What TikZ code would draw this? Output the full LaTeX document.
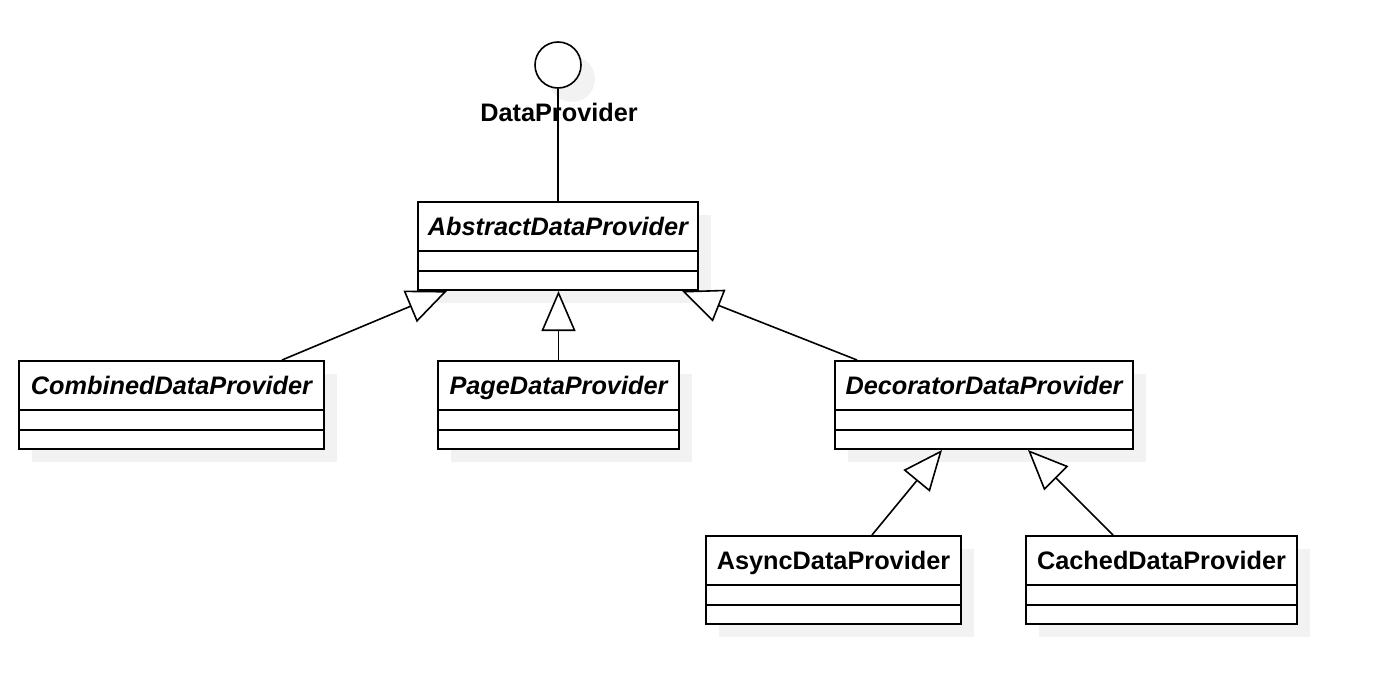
\documentclass[tikz,border=0pt]{standalone}
\usepackage{fontspec}
\setmainfont{Liberation Sans}
\usetikzlibrary{arrows.meta,calc}
\definecolor{shadowgray}{RGB}{242,242,242}
\tikzset{
  classbox/.style={draw=black, line width=2pt, fill=white, rectangle, inner sep=0pt, anchor=north west},
  sep/.style={line width=2pt},
  absname/.style={font=\fontsize{25.3}{30}\selectfont\bfseries\itshape, anchor=base, inner sep=0pt},
  concname/.style={font=\fontsize{25.3}{30}\selectfont\bfseries, anchor=base, inner sep=0pt},
  gen/.style={line width=1.6pt, line join=miter, -{Triangle[fill=white, length=40pt, width=34pt]}},
  link/.style={line width=1.6pt}
}
\newcommand{\umlcls}[7]{%
  \fill[shadowgray] (#2+14,#3+14) rectangle (#4+14,#5+14);
  \node[classbox, minimum width={#4-#2}, minimum height={#5-#3}] (#1) at (#2,#3) {};
  \node[#6] (#1-name) at ($(#1.north)+(0,34)$) {#7};
  \draw[sep] ($(#1.north west)+(0,50)$) -- ($(#1.north east)+(0,50)$);
  \draw[sep] ($(#1.north west)+(0,70)$) -- ($(#1.north east)+(0,70)$);
}
\begin{document}
\begin{tikzpicture}[x=1pt,y=-1pt]
\useasboundingbox (0,0) rectangle (1378,682);
% interface lollipop
\fill[shadowgray] (572,79) circle (23);
\node[draw, circle, line width=1.6pt, fill=white, minimum size=46pt, inner sep=0pt] (iface) at (558,65) {};
\node[concname] (ifacelabel) at (559,122) {DataProvider};

% classes
\umlcls{abs}{417}{201}{697}{289}{absname}{AbstractDataProvider}
\umlcls{comb}{18}{360}{323}{448}{absname}{CombinedDataProvider}
\umlcls{page}{437}{360}{678}{448}{absname}{PageDataProvider}
\umlcls{dec}{834}{360}{1132}{448}{absname}{DecoratorDataProvider}
\umlcls{async}{705}{535}{960}{623}{concname}{AsyncDataProvider}
\umlcls{cached}{1025}{535}{1296}{623}{concname}{CachedDataProvider}

% realization link
\draw[link] (iface.south) -- (iface.south |- abs.north);

% generalizations
\draw[gen] ($(comb.north west)+(264,0)$) -- ($(abs.south west)+(30,0)$);
\draw[gen] (page.north) -- (page.north |- abs.south);
\draw[gen] ($(dec.north west)+(23,0)$) -- ($(abs.south west)+(265,0)$);
\draw[gen] ($(async.north west)+(167,0)$) -- ($(dec.south west)+(108,0)$);
\draw[gen] ($(cached.north west)+(88,0)$) -- ($(dec.south west)+(194,0)$);
\end{tikzpicture}
\end{document}
